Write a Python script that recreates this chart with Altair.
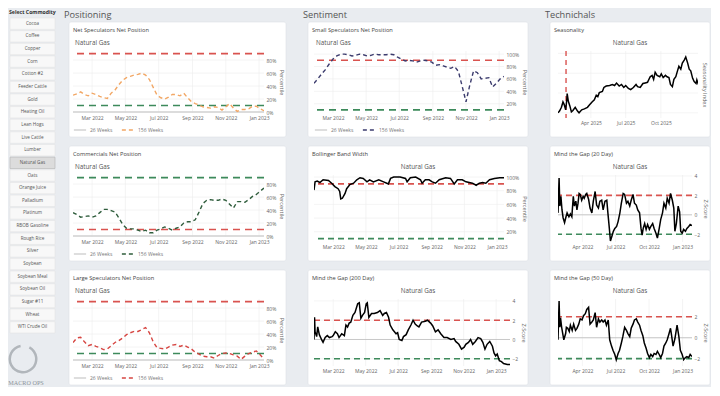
import altair as alt
import pandas as pd

FONT = "Open Sans"

# ---------------- data ----------------
commodities = ["Cocoa", "Coffee", "Copper", "Corn", "Cotton #2", "Feeder Cattle", "Gold",
               "Heating Oil", "Lean Hogs", "Live Cattle", "Lumber", "Natural Gas", "Oats",
               "Orange Juice", "Palladium", "Platinum", "RBOB Gasoline", "Rough Rice", "Silver",
               "Soybean", "Soybean Meal", "Soybean Oil", "Sugar #11", "Wheat", "WTI Crude Oil"]
selected = "Natural Gas"

series_names = ["26 Weeks", "156 Weeks"]
cot_start = "2022-01-25"
cot_range = ["2022-01-25", "2023-01-10"]
cot_ticks = ["2022-03-01", "2022-05-01", "2022-07-01", "2022-09-01", "2022-11-01", "2023-01-01"]

net_spec_156 = [26, 28, 31, 27, 25, 29, 27, 24, 22, 21, 29, 34, 42, 49, 53, 55, 57, 58, 60, 57, 50, 38, 26,
                22, 20, 23, 27, 27, 25, 29, 22, 16, 13, 11, 8, 7, 6, 8, 7, 3, 8, 13, 6, 1, 4, 4, 5, 9, 9, 5, 2]
commercials_156 = [36, 33, 29, 30, 31, 29, 31, 36, 41, 41, 39, 37, 28, 18, 12, 11, 11, 9, 7, 9, 5, 5, 9, 11,
                   14, 12, 9, 12, 14, 20, 22, 22, 25, 37, 50, 55, 56, 55, 55, 57, 55, 49, 43, 53, 53, 52,
                   56, 61, 64, 69, 74]
large_spec_156 = [27, 34, 35, 28, 22, 24, 21, 19, 16, 17, 22, 27, 30, 34, 39, 42, 44, 44, 47, 50, 42, 28, 19,
                  18, 17, 20, 23, 24, 21, 23, 20, 17, 12, 9, 6, 5, 5, 3, 7, 10, 11, 10, 8, 6, 1, 6, 10, 12,
                  14, 8, 1]
small_spec_156 = [53, 60, 68, 75, 84, 92, 97, 100, 100, 99, 97, 98, 100, 99, 97, 98, 100, 99, 99, 99, 100,
                  99, 95, 92, 89, 90, 89, 87, 89, 90, 89, 87, 82, 83, 81, 79, 77, 80, 72, 48, 23, 50, 73,
                  70, 60, 61, 62, 47, 53, 60, 64]

daily_origin = "2022-01-24"
bbw_day = [0, 2, 6, 11, 17, 27, 33, 39, 45, 48, 50, 53, 58, 61, 67, 74, 80, 86, 92, 99, 104, 111, 121, 130,
           136, 139, 143, 149, 161, 171, 174, 180, 190, 199, 202, 208, 215, 221, 227, 234, 246, 255, 262,
           268, 277, 284, 290, 296, 303, 309, 315, 321, 328, 337, 347, 356]
bbw_val = [81, 93, 94, 92, 96, 95, 91, 86, 83, 79, 68, 69, 76, 83, 89, 91, 96, 99, 98, 93, 96, 93, 96, 93,
           91, 90, 98, 100, 100, 98, 93, 99, 100, 96, 91, 96, 96, 93, 91, 96, 99, 98, 90, 96, 96, 93, 92,
           91, 88, 91, 92, 91, 96, 98, 99, 99]

gap200_day = [0, 1, 2, 5, 7, 10, 15, 17, 21, 25, 29, 34, 36, 40, 44, 47, 52, 57, 60, 63, 66, 69, 73, 77, 82,
              85, 88, 91, 95, 98, 100, 103, 108, 113, 119, 124, 129, 132, 136, 140, 143, 148, 151, 154, 157,
              160, 165, 168, 173, 177, 182, 186, 190, 194, 197, 202, 209, 213, 219, 223, 228, 233, 238, 244,
              250, 257, 263, 266, 272, 277, 282, 285, 290, 294, 298, 303, 308, 313, 317, 321, 325, 330, 335,
              338, 341, 344, 348, 352, 356, 363, 369]
gap200_val = [0, 2.3, 0.8, 0.3, 1.3, 0.5, -0.1, -0.3, 0.2, 0.4, 0.2, 0.3, 0.4, 0.8, 0.6, 0.2, 0.6, 0.4, 1.5,
              1.3, 1.7, 1.8, 2.5, 2.8, 3.7, 3.8, 2.2, 2.5, 2.8, 3.7, 3.8, 2.3, 2.7, 2.7, 2.8, 3.0, 2.5, 2.7,
              2.8, 2.3, 1.5, 1.0, 0.8, 0.6, 0.7, 0, -0.1, 0.3, 0.5, 1.0, 1.5, 2.0, 1.6, 1.4, 1.3, 1.8, 1.9,
              2.0, 1.7, 1.4, 0.8, 1.0, 0.6, 0.2, 0.2, 0, 0.1, -0.2, -0.5, -1.0, -0.8, -0.5, -0.3, 0, -0.5,
              -0.2, 0.2, 0.1, -0.3, -1.0, -0.5, -0.2, -0.7, -1.4, -1.7, -1.5, -2.2, -2.3, -2.5, -2.6, -2.6]

gap20_day = [0, 3, 5, 8, 11, 14, 18, 22, 25, 30, 34, 38, 42, 45, 49, 52, 55, 58, 61, 65, 69, 72, 76, 79, 84,
             88, 93, 97, 102, 106, 111, 115, 120, 124, 129, 134, 137, 141, 144, 148, 152, 156, 161, 165, 170,
             174, 179, 183, 188, 192, 197, 201, 206, 210, 215, 219, 224, 228, 231, 234, 238, 242, 246, 251,
             255, 260, 264, 269, 273, 278, 282, 287, 291, 296, 300, 305, 309, 314, 318, 321, 325, 330, 334,
             337, 341, 345, 350, 354, 359, 363, 368]
gap20_val = [0.2, 3.8, 0.9, 1.9, 0.5, -0.3, -0.8, -0.2, 0.2, -0.2, 0.1, -0.2, 1.9, 0.9, 1.4, 0.5, 1.2, 2.2,
             2.1, 1.5, 1.9, 1.7, 2.1, 2.2, 1.6, 0.7, 0.2, 1.4, 2.4, 1.0, 0.7, 1.4, 1.5, 0.5, 1.4, 1.5, 0.2,
             -1.4, -2.7, -2.2, -1.7, -1.4, -1.2, -0.7, 0.2, 1.2, 2.2, 2.1, 1.2, 1.4, 0.9, 1.5, 2.1, 1.2, 1.0,
             0.5, 0.2, -1.4, -2.1, -1.4, -0.9, -1.5, -1.0, -1.5, -1.2, -0.9, -1.4, -1.9, -2.4, -1.4, -0.5,
             0.2, 1.2, 0.7, 1.7, 1.2, 2.2, 1.5, 0.7, -1.7, -0.9, 0.9, 0.3, -1.7, -1.9, -1.5, -1.7, -1.4,
             -1.2, -1.0, -1.1]

gap50_day = [0, 3, 5, 7, 10, 13, 16, 21, 23, 27, 31, 34, 39, 43, 48, 52, 57, 61, 66, 70, 75, 79, 84, 88, 93,
             97, 102, 106, 111, 115, 120, 124, 129, 133, 138, 142, 147, 151, 156, 160, 165, 169, 174, 178,
             183, 188, 192, 197, 201, 206, 210, 215, 219, 224, 228, 233, 237, 242, 246, 251, 255, 260, 264,
             269, 273, 278, 282, 287, 291, 296, 300, 305, 309, 312, 316, 321, 327, 332, 336, 341, 345, 350,
             354, 359, 363, 368]
gap50_val = [-0.2, 3.5, 1.0, 1.9, 1.0, 0.4, -0.2, 0.4, 1.0, 0.9, 0.6, 1.2, 0.7, 1.3, 0.7, 0.9, 1.3, 1.8, 1.7,
             2.1, 2.3, 2.7, 2.9, 1.3, 1.5, 1.7, 2.4, 1.0, 1.8, 1.5, 1.7, 1.5, 1.7, 1.2, 1.7, -0.2, -0.8, -1.2,
             -1.6, -2.1, -1.5, -1.2, -0.5, 0.1, 1.0, 0.7, 0.4, 0.1, 0.9, 1.3, 1.7, 1.8, 1.5, 1.2, 0.7, 0.2,
             -0.5, -1.0, -1.5, -1.9, -1.6, -1.8, -1.5, -1.6, -1.3, -1.6, -1.9, -1.5, -0.8, -0.5, -0.2, 0.4,
             0.9, 0.2, -0.8, -0.1, 1.2, 0.1, -1.2, -1.6, -2.1, -1.9, -1.8, -1.9, -1.6, -1.8]

season_origin = "2025-01-01"
season_day = [4, 8, 13, 17, 20, 24, 27, 28, 31, 35, 39, 43, 49, 55, 59, 66, 73, 81, 86, 93, 99, 104, 108, 112,
              120, 124, 130, 139, 146, 152, 157, 164, 170, 176, 181, 188, 194, 201, 208, 212, 219, 226, 232,
              238, 245, 250, 254, 258, 263, 270, 274, 279, 285, 289, 294, 298, 303, 307, 312, 316, 320, 325,
              329, 334, 338, 343, 347, 351, 356, 360, 365, 367, 371]
season_val = [0, 0.09, 0.28, 0.55, 0.43, 0.15, 0.66, 0.97, 0.58, 0.35, 0.05, 0.12, 0.28, 0.09, 0, 0.15, 0.2,
              0.28, 0.4, 0.55, 0.66, 0.89, 0.82, 1.02, 1.08, 1.28, 1.35, 1.38, 1.43, 1.38, 1.5, 1.35, 1.43,
              1.28, 1.38, 1.23, 1.17, 1.28, 1.43, 1.32, 1.28, 1.48, 1.51, 1.54, 1.82, 1.89, 1.69, 2.05, 1.89,
              1.82, 1.97, 1.78, 1.89, 1.82, 1.78, 1.43, 1.32, 1.69, 1.82, 2.09, 2.35, 2.2, 2.51, 2.66, 2.82,
              2.51, 2.2, 2.12, 1.74, 1.58, 1.48, 1.66, 1.43]
season_today = ["2025-01-26"]

# ---------------- helpers ----------------
RED = "#d9534f"
GREEN = "#3d8a5b"
GRID = "#ededed"
ONE = pd.DataFrame({"k": [0]})


def dt(s):
    y, m, d = map(int, s.split("-"))
    return alt.DateTime(year=y, month=m, date=d)


def day_dates(origin, days):
    return pd.Timestamp(origin) + pd.to_timedelta(days, unit="D")


XAX = dict(labelFontSize=5, labelColor="#666", labelFont=FONT, ticks=False, domain=False, grid=False,
           title=None, labelPadding=2, zindex=1, labelOverlap=False)


def xenc(rng, ticks):
    return alt.X("date:T", scale=alt.Scale(domain=[dt(rng[0]), dt(rng[1])]),
                 axis=alt.Axis(values=[dt(t) for t in ticks], format="%b %Y", **XAX))


def yenc(dom, axis):
    return alt.Y("value:Q", scale=alt.Scale(domain=list(dom), nice=False, zero=False), axis=axis)


def yaxis(values, title, pct=False, labels=True):
    kw = dict(orient="right", values=list(values), labelFontSize=5, labelColor="#666", labelFont=FONT,
              ticks=False, domain=False, grid=False, title=title,
              titleFontSize=5.5, titleFontWeight="normal", titleColor="#666", titleFont=FONT,
              titlePadding=3, labelPadding=2, zindex=1, labels=labels)
    if pct:
        kw["labelExpr"] = "datum.value + '%'"
    return alt.Axis(**kw)


def bg(x0, x1, y0, y1):
    return alt.Chart(ONE).mark_rect(fill="white", stroke="#dde1e6", strokeWidth=0.6, cornerRadius=2).encode(
        x=alt.value(x0), x2=alt.value(x1), y=alt.value(y0), y2=alt.value(y1))


def txt(text, x, y, size, color, align="left", weight="normal", font=FONT):
    return alt.Chart(ONE).mark_text(text=text, align=align, baseline="middle", fontSize=size, color=color,
                                    font=font, fontWeight=weight).encode(x=alt.value(x), y=alt.value(y))


def hrule(v, color, dom, ax, dash=(7, 5), width=1.6):
    return alt.Chart(pd.DataFrame({"value": list(v) if isinstance(v, (list, tuple)) else [v]})).mark_rule(
        color=color, strokeDash=list(dash), strokeWidth=width).encode(y=yenc(dom, ax))


def grids(rng, ticks, dom, yvals, ax):
    xg = alt.Chart(pd.DataFrame({"date": pd.to_datetime(ticks)})).mark_rule(
        color=GRID, strokeWidth=0.6).encode(x=xenc(rng, ticks))
    yg = hrule(list(yvals), GRID, dom, ax, dash=(1, 0), width=0.6)
    return [xg, yg]


def card_frame(title, x0, x1, H, bottom, header, centered_ng):
    layers = [bg(x0, x1, -29, H + bottom)]
    if header:
        layers.append(txt(header, x0 - 5, -36, 9.2, "#555"))
    layers.append(txt(title, x0 + 4, -21, 5.7, "#444"))
    if centered_ng:
        layers.append(txt("Natural Gas", (x0 + x1) / 2, -8.5, 6.3, "#555", align="center"))
    else:
        layers.append(txt("Natural Gas", 2, -8, 6.3, "#555"))
    return layers


def cot_card(title, vals, color, hi, lo, W, x0, x1, header=None, dom=(-1.5, 94),
             ticks=(0, 20, 40, 60, 80), zero=True):
    H = 62
    df = pd.DataFrame({"date": pd.date_range(cot_start, periods=len(vals), freq="7D"),
                       "value": vals, "series": "156 Weeks"})
    ax = yaxis(ticks, "Percentile", pct=True)
    layers = card_frame(title, x0, x1, H, 24, header, False)
    layers += grids(cot_range, cot_ticks, dom, ticks, ax)
    if zero:
        layers.append(hrule(0, "#d2d2d2", dom, ax, dash=(1, 0), width=1.6))
    layers.append(hrule(90, hi, dom, ax))
    layers.append(hrule(10, lo, dom, ax))
    leg = alt.Legend(orient="none", legendX=0, legendY=H + 10, direction="horizontal", title=None,
                     symbolType="stroke", symbolSize=150, symbolStrokeWidth=1.3, labelFontSize=5,
                     labelColor="#777", labelFont=FONT, columnPadding=6, padding=0, zindex=1,
                     labelOffset=3)
    layers.append(alt.Chart(df).mark_line(strokeWidth=1.4, clip=True).encode(
        x=xenc(cot_range, cot_ticks),
        y=yenc(dom, ax),
        color=alt.Color("series:N", scale=alt.Scale(domain=series_names, range=["#d4d4d4", color]),
                        legend=leg),
        strokeDash=alt.StrokeDash("series:N", scale=alt.Scale(domain=series_names, range=[[1, 0], [4, 3]]),
                                  legend=leg)))
    return alt.layer(*layers).properties(width=W, height=H)


def tech_card(title, dates, vals, rng, ticks, dom, yvals, ytitle, W, x0, x1, hi=2, lo=-2, zero=True,
              pct=False, header=None, ylabels=True, vline=None):
    H = 67
    df = pd.DataFrame({"date": dates, "value": vals})
    ax = yaxis(yvals, ytitle, pct=pct, labels=ylabels)
    layers = card_frame(title, x0, x1, H, 19, header, True)
    layers += grids(rng, ticks, dom, yvals, ax)
    if zero:
        layers.append(hrule(0, "#bdbdbd", dom, ax, dash=(1, 0), width=0.8))
    if hi is not None:
        layers.append(hrule(hi, RED, dom, ax, dash=(6, 4)))
        layers.append(hrule(lo, GREEN, dom, ax, dash=(6, 4)))
    if vline is not None:
        layers.append(alt.Chart(pd.DataFrame({"date": pd.to_datetime(vline)})).mark_rule(
            color=RED, strokeDash=[5, 4], strokeWidth=1.4).encode(x=xenc(rng, ticks)))
    layers.append(alt.Chart(df).mark_line(color="black", strokeWidth=1.5, clip=True).encode(
        x=xenc(rng, ticks),
        y=yenc(dom, ax)))
    return alt.layer(*layers).properties(width=W, height=H)


def indep(c):
    return c.resolve_scale(color="independent", strokeDash="independent").resolve_legend(
        color="independent", strokeDash="independent")


# ---------------- sidebar ----------------
OFF = 42  # sidebar drawn relative to the first card's plot origin
side_df = pd.DataFrame({"name": commodities, "sel": [c == selected for c in commodities]})
side_y = alt.Y("name:N", sort=commodities, axis=None,
               scale=alt.Scale(domain=commodities, range=[9 - OFF, 324 - OFF], paddingInner=0.1,
                               paddingOuter=0))
buttons = alt.Chart(side_df).mark_rect(strokeWidth=0.6).encode(
    y=side_y, x=alt.value(1), x2=alt.value(46),
    fill=alt.condition("datum.sel", alt.value("#dcdcdc"), alt.value("#f8f8f8")),
    stroke=alt.condition("datum.sel", alt.value("#b4b4b4"), alt.value("#e4e4e4")))
button_text = alt.Chart(side_df).mark_text(fontSize=4.6, color="#555", font=FONT).encode(
    y=side_y, x=alt.value(23.5), text="name:N")
logo = alt.Chart(ONE).mark_arc(innerRadius=12, outerRadius=14.5, theta=0.5, theta2=6.1,
                               color="#b1b6bb").encode(x=alt.value(14), y=alt.value(350 - OFF))
sidebar = alt.layer(
    txt("Select Commodity", 0, 3 - OFF, 5.2, "#333", weight="bold"),
    buttons, button_text, logo,
    txt("MACRO OPS", 17, 374 - OFF, 6.2, "#8d949a", align="center", font="Liberation Serif"),
).properties(width=46, height=280)

# ---------------- cards ----------------
c1 = cot_card("Net Speculators Net Position", net_spec_156, "#f2a765", RED, GREEN, 191, -4, 213,
              header="Positioning")
c2 = cot_card("Commercials Net Position", commercials_156, "#2f5d3c", GREEN, RED, 191, -4, 213)
c3 = cot_card("Large Speculators Net Position", large_spec_156, "#d64541", RED, GREEN, 191, -4, 213)

s1 = cot_card("Small Speculators Net Position", small_spec_156, "#3b3b6d", RED, GREEN, 190, -6, 214,
              header="Sentiment", dom=(5, 105), ticks=(20, 40, 60, 80, 100), zero=False)
s2 = tech_card("Bollinger Band Width", day_dates(daily_origin, bbw_day), bbw_val,
               ["2022-01-24", "2023-01-14"], cot_ticks, (5, 103), (20, 40, 60, 80, 100), "Percentile",
               190, -6, 214, hi=90, lo=10, zero=False, pct=True)
s3 = tech_card("Mind the Gap (200 Day)", day_dates(daily_origin, gap200_day), gap200_val,
               ["2022-01-24", "2023-01-27"], cot_ticks, (-2.75, 4.2), (-2, 0, 2, 4), "Z-Score",
               196, -6, 214)

q_ticks = ["2022-04-01", "2022-07-01", "2022-10-01", "2023-01-01"]
t1 = tech_card("Seasonality", day_dates(season_origin, season_day), season_val,
               ["2025-01-05", "2026-01-06"], ["2025-04-01", "2025-07-01", "2025-10-01"], (-0.26, 3.12),
               (0, 1, 2, 3), "Seasonality Index", 140, -8, 152, hi=None, zero=False, header="Technichals",
               ylabels=False, vline=season_today)
t2 = tech_card("Mind the Gap (20 Day)", day_dates(daily_origin, gap20_day), gap20_val,
               ["2022-01-24", "2023-01-27"], q_ticks, (-2.8, 4.1), (-2, 0, 2, 4), "Z-Score", 134, -8, 152)
t3 = tech_card("Mind the Gap (50 Day)", day_dates(daily_origin, gap50_day), gap50_val,
               ["2022-01-24", "2023-01-27"], q_ticks, (-2.7, 3.7), (-2, 0, 2), "Z-Score", 134, -8, 152)

col1 = indep(alt.vconcat(c1, c2, c3, spacing=7))
col2 = indep(alt.vconcat(s1, s2, s3, spacing=7))
col3 = indep(alt.vconcat(t1, t2, t3, spacing=7))
inner = indep(alt.hconcat(col1, col2, col3, spacing=16))

chart = indep(alt.hconcat(sidebar, inner, spacing=8)).properties(
    padding={"top": 2, "left": 0, "right": 0, "bottom": 0}, background="#e9ecf0"
).configure_view(strokeWidth=0).configure_axis(labelFont=FONT, titleFont=FONT)

chart.save("out.html", embed_options={"renderer": "svg", "actions": False})
